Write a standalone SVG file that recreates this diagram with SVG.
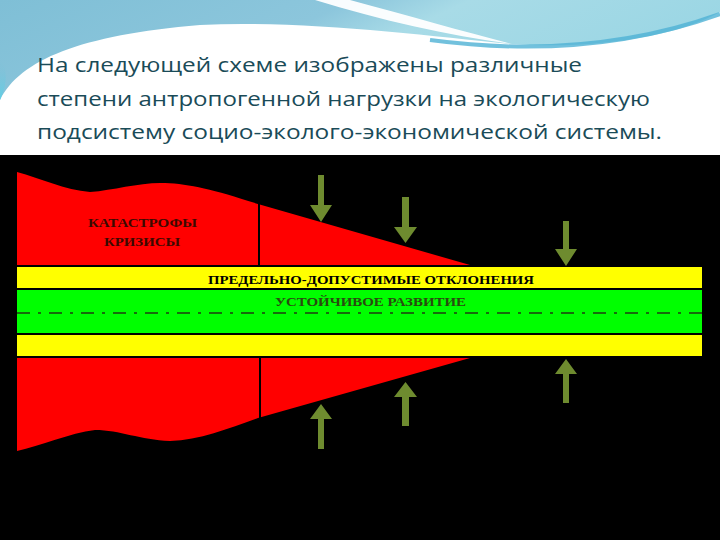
<svg xmlns="http://www.w3.org/2000/svg" width="720" height="540" viewBox="0 0 720 540">
<defs>
<linearGradient id="sky" x1="0" y1="0" x2="1" y2="0.3">
<stop offset="0" stop-color="#7fbfd6"/>
<stop offset="0.45" stop-color="#8cc6dc"/>
<stop offset="0.6" stop-color="#a8dbe7"/>
<stop offset="1" stop-color="#9ad6e4"/>
</linearGradient>
<linearGradient id="skyLeft" x1="0" y1="0" x2="0" y2="1">
<stop offset="0" stop-color="#7fbfd6" stop-opacity="0"/>
<stop offset="1" stop-color="#5fd0e6"/>
</linearGradient>
</defs>
<style>
.title{font-family:"Open Sans","Liberation Sans",sans-serif;font-size:20px;fill:#1a4b58}
.lab{font-family:"Liberation Serif","DejaVu Serif",serif;font-weight:bold;font-size:12.5px}
.red{fill:#ff0000}
.yel{fill:#ffff00}
.grn{fill:#00ff00}
.sep{stroke:#000;stroke-width:2}
.arrow{fill:#6e8b2f}
</style>
<rect x="0" y="0" width="720" height="540" fill="#ffffff"/>
<g id="header-wave">
<path d="M0 0 H720 V12 C680 35 600 50 510 44 C420 35 300 20 200 25 C80 35 20 60 0 100 Z" fill="url(#sky)"/>
<path d="M0 60 C10 70 5 90 0 100 Z" fill="url(#skyLeft)"/>
<path d="M315 0 H350 C410 16 465 32 512 44 C450 36 380 20 315 0 Z" fill="#ffffff" opacity="0.95"/>
<path d="M430 40 C520 52 620 50 720 14" fill="none" stroke="#4fb2d4" stroke-width="4" opacity="0.8"/>
</g>
<g id="title">
<text class="title" x="37" y="72" textLength="545" lengthAdjust="spacingAndGlyphs">На следующей схеме изображены различные</text>
<text class="title" x="37" y="106" textLength="613" lengthAdjust="spacingAndGlyphs">степени антропогенной нагрузки на экологическую</text>
<text class="title" x="37" y="139" textLength="625" lengthAdjust="spacingAndGlyphs">подсистему социо-эколого-экономической системы.</text>
</g>
<rect x="0" y="155" width="720" height="385" fill="#000000"/>
<g id="upper-red">
<path class="red" d="M17 172 C40 178 65 190 90 192 C115 190 140 182 165 183 C190 184 215 190 258 204 L470 265 H17 Z"/>
<line class="sep" x1="259" y1="204" x2="259" y2="266"/>
</g>
<g id="band-limit">
<rect class="yel" x="17" y="267" width="685" height="21"/>
<text class="lab" x="208" y="284" textLength="326" lengthAdjust="spacingAndGlyphs" fill="#000">ПРЕДЕЛЬНО-ДОПУСТИМЫЕ ОТКЛОНЕНИЯ</text>
</g>
<g id="band-stable">
<rect class="grn" x="17" y="290" width="685" height="43"/>
<text class="lab" x="275" y="306" textLength="191" lengthAdjust="spacingAndGlyphs" fill="#2a4a10">УСТОЙЧИВОЕ РАЗВИТИЕ</text>
<line x1="17" y1="313" x2="702" y2="313" stroke="#1f3d10" stroke-width="1.5" stroke-dasharray="13 8 3 8"/>
</g>
<g id="band-limit-low">
<rect class="yel" x="17" y="335" width="685" height="21"/>
</g>
<g id="lower-red">
<path class="red" d="M17 358 H470 L258 418 C230 428 200 440 170 441 C140 440 120 430 95 430 C70 433 40 446 17 451 Z"/>
<line class="sep" x1="260" y1="357" x2="260" y2="419"/>
</g>
<g id="labels-crisis">
<text class="lab" x="88" y="227" textLength="109" lengthAdjust="spacingAndGlyphs" fill="#3a0a00">КАТАСТРОФЫ</text>
<text class="lab" x="104" y="246" textLength="76" lengthAdjust="spacingAndGlyphs" fill="#3a0a00">КРИЗИСЫ</text>
</g>
<g id="connectors">
<path class="arrow" d="M318 175 H324 V205 H332 L321 222 L310 205 H318 Z"/>
<path class="arrow" d="M402 197 H409 V227 H417 L405.5 243 L394 227 H402 Z"/>
<path class="arrow" d="M563 221 H569 V249 H577 L566 266 L555 249 H563 Z"/>
<path class="arrow" d="M318 449 H324 V419 H332 L321 404 L310 419 H318 Z"/>
<path class="arrow" d="M402 426 H409 V397 H417 L405.5 382 L394 397 H402 Z"/>
<path class="arrow" d="M563 403 H569 V374 H577 L566 359 L555 374 H563 Z"/>
</g>
</svg>
